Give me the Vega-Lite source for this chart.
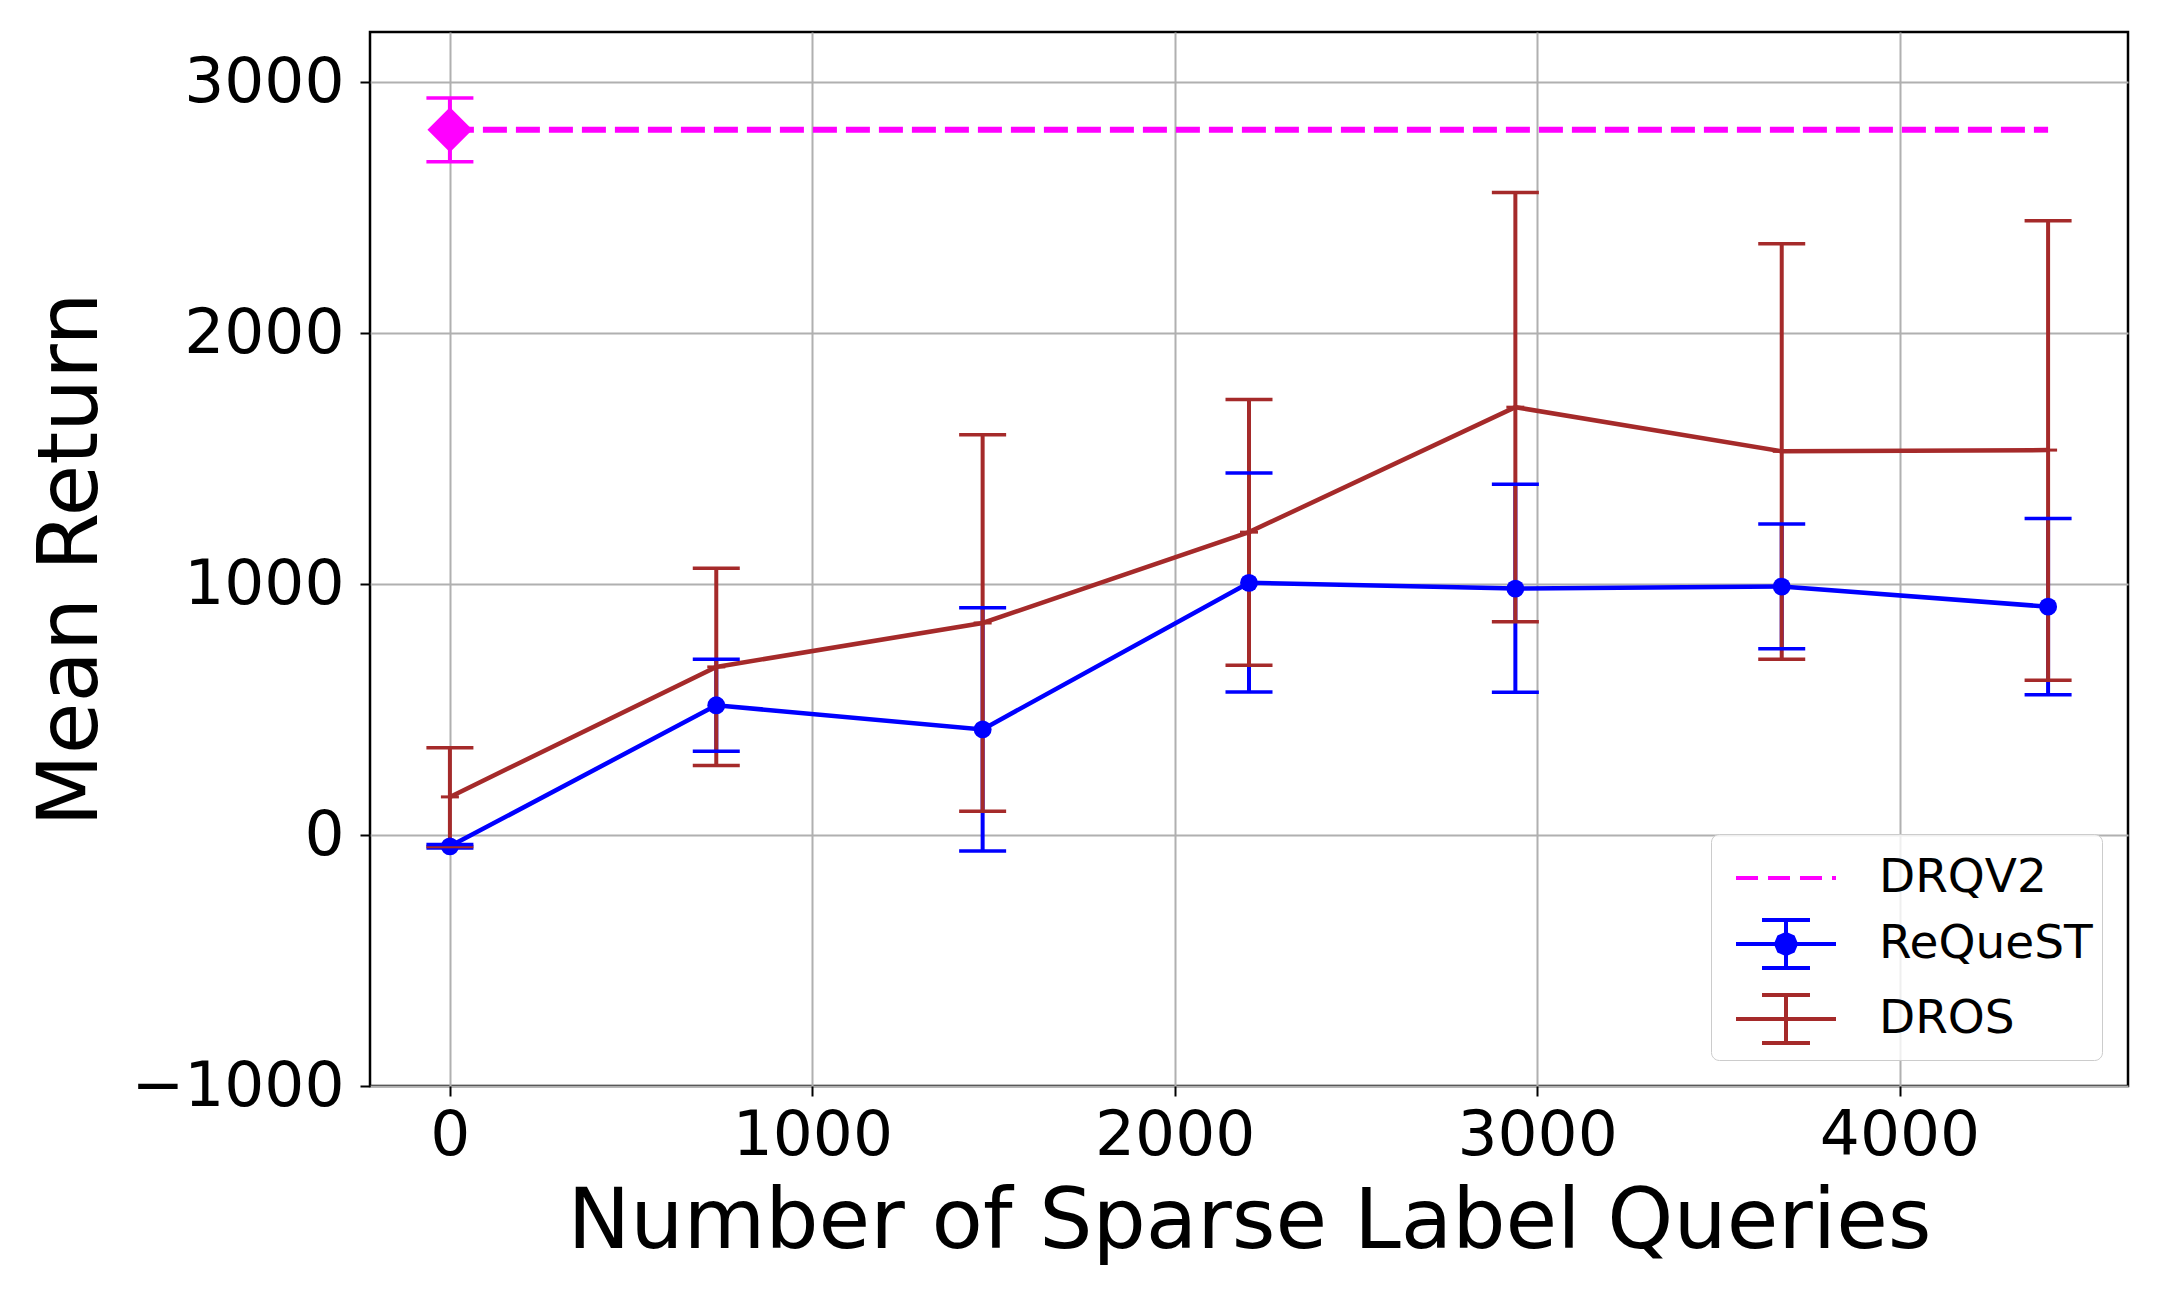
{
  "$schema": "https://vega.github.io/schema/vega-lite/v6.json",
  "autosize": {"type": "none"},
  "padding": {"left": 370, "top": 32, "right": 32, "bottom": 210},
  "width": 1758,
  "height": 1054,
  "background": "white",
  "datasets": {
    "points": [
      {"series": "DRQV2", "x": 0, "mean": 2810, "lo": 2683, "hi": 2937},
      {"series": "ReQueST", "x": 0, "mean": -45, "lo": -52, "hi": -38},
      {"series": "ReQueST", "x": 735, "mean": 517, "lo": 334, "hi": 701},
      {"series": "ReQueST", "x": 1470, "mean": 421, "lo": -64, "hi": 906},
      {"series": "ReQueST", "x": 2205, "mean": 1005, "lo": 570, "hi": 1443},
      {"series": "ReQueST", "x": 2940, "mean": 982, "lo": 569, "hi": 1398},
      {"series": "ReQueST", "x": 3675, "mean": 990, "lo": 742, "hi": 1239},
      {"series": "ReQueST", "x": 4410, "mean": 910, "lo": 559, "hi": 1261},
      {"series": "DROS", "x": 0, "mean": 152, "lo": -46, "hi": 348},
      {"series": "DROS", "x": 735, "mean": 670, "lo": 277, "hi": 1063},
      {"series": "DROS", "x": 1470, "mean": 845, "lo": 95, "hi": 1595},
      {"series": "DROS", "x": 2205, "mean": 1207, "lo": 677, "hi": 1736},
      {"series": "DROS", "x": 2940, "mean": 1705, "lo": 850, "hi": 2560},
      {"series": "DROS", "x": 3675, "mean": 1529, "lo": 701, "hi": 2356},
      {"series": "DROS", "x": 4410, "mean": 1534, "lo": 617, "hi": 2448}
    ],
    "baseline": [
      {"series": "DRQV2", "x": 0, "mean": 2810},
      {"series": "DRQV2", "x": 4410, "mean": 2810}
    ]
  },
  "encoding": {
    "x": {
      "field": "x",
      "type": "quantitative",
      "scale": {"domain": [-220.5, 4630.5], "nice": false, "zero": false},
      "axis": {
        "values": [0, 1000, 2000, 3000, 4000],
        "format": "d",
        "title": "Number of Sparse Label Queries",
        "labelPadding": 8,
        "titlePadding": 14
      }
    }
  },
  "layer": [
    {
      "data": {"name": "baseline"},
      "mark": {"type": "line", "color": "#ff00ff", "strokeWidth": 6, "strokeDash": [24, 9]},
      "encoding": {
        "y": {
          "field": "mean",
          "type": "quantitative",
          "scale": {"domain": [-1000, 3200], "nice": false, "zero": false},
          "title": "Mean Return",
          "axis": {"values": [-1000, 0, 1000, 2000, 3000], "format": "d", "labelPadding": 16, "titlePadding": 56}
        }
      }
    },
    {
      "data": {"name": "points"},
      "mark": {"type": "rule", "strokeWidth": 4, "opacity": 1},
      "encoding": {
        "y": {
          "field": "lo",
          "type": "quantitative",
          "title": "Mean Return",
          "axis": {"values": [-1000, 0, 1000, 2000, 3000], "format": "d", "labelPadding": 16, "titlePadding": 56}
        },
        "y2": {"field": "hi"},
        "color": {
          "field": "series",
          "type": "nominal",
          "scale": {"domain": ["ReQueST", "DROS", "DRQV2"], "range": ["#0000ff", "#a52a2a", "#ff00ff"]},
          "legend": null
        }
      }
    },
    {
      "data": {"name": "points"},
      "transform": [{"filter": "datum.series !== 'DRQV2'"}],
      "mark": {"type": "line", "strokeWidth": 4.5, "opacity": 1},
      "encoding": {
        "y": {
          "field": "mean",
          "type": "quantitative",
          "title": "Mean Return",
          "axis": {"values": [-1000, 0, 1000, 2000, 3000], "format": "d", "labelPadding": 16, "titlePadding": 56}
        },
        "color": {"field": "series", "type": "nominal", "legend": null},
        "detail": {"field": "series"}
      }
    },
    {
      "data": {"name": "points"},
      "transform": [{"filter": "datum.series === 'DROS'"}],
      "mark": {"type": "tick", "orient": "horizontal", "size": 18, "thickness": 3, "opacity": 1},
      "encoding": {
        "y": {
          "field": "mean",
          "type": "quantitative",
          "title": "Mean Return",
          "axis": {"values": [-1000, 0, 1000, 2000, 3000], "format": "d", "labelPadding": 16, "titlePadding": 56}
        },
        "color": {"field": "series", "type": "nominal", "legend": null}
      }
    },
    {
      "data": {"name": "points"},
      "transform": [{"filter": "datum.series === 'ReQueST'"}],
      "mark": {"type": "point", "shape": "circle", "filled": true, "size": 320, "opacity": 1},
      "encoding": {
        "y": {
          "field": "mean",
          "type": "quantitative",
          "title": "Mean Return",
          "axis": {"values": [-1000, 0, 1000, 2000, 3000], "format": "d", "labelPadding": 16, "titlePadding": 56}
        },
        "color": {"field": "series", "type": "nominal", "legend": null}
      }
    },
    {
      "data": {"name": "points"},
      "transform": [{"filter": "datum.series === 'DRQV2'"}],
      "mark": {"type": "point", "shape": "diamond", "filled": true, "size": 2025, "opacity": 1},
      "encoding": {
        "y": {
          "field": "mean",
          "type": "quantitative",
          "title": "Mean Return",
          "axis": {"values": [-1000, 0, 1000, 2000, 3000], "format": "d", "labelPadding": 16, "titlePadding": 56}
        },
        "color": {"field": "series", "type": "nominal", "legend": null}
      }
    },
    {
      "data": {"name": "points"},
      "mark": {"type": "tick", "orient": "horizontal", "size": 47, "thickness": 3.5, "opacity": 1},
      "encoding": {
        "y": {
          "field": "lo",
          "type": "quantitative",
          "title": "Mean Return",
          "axis": {"values": [-1000, 0, 1000, 2000, 3000], "format": "d", "labelPadding": 16, "titlePadding": 56}
        },
        "color": {"field": "series", "type": "nominal", "legend": null}
      }
    },
    {
      "data": {"name": "points"},
      "mark": {"type": "tick", "orient": "horizontal", "size": 47, "thickness": 3.5, "opacity": 1},
      "encoding": {
        "y": {
          "field": "hi",
          "type": "quantitative",
          "title": "Mean Return",
          "axis": {"values": [-1000, 0, 1000, 2000, 3000], "format": "d", "labelPadding": 16, "titlePadding": 56}
        },
        "color": {"field": "series", "type": "nominal", "legend": null}
      }
    },
    {
      "data": {"name": "points"},
      "mark": {"type": "point", "size": 0, "filled": true, "strokeWidth": 4, "opacity": 1},
      "encoding": {
        "y": {
          "field": "mean",
          "type": "quantitative",
          "title": "Mean Return",
          "axis": {"values": [-1000, 0, 1000, 2000, 3000], "format": "d", "labelPadding": 16, "titlePadding": 56}
        },
        "fill": {
          "field": "series",
          "type": "nominal",
          "scale": {"domain": ["DRQV2", "ReQueST", "DROS"], "range": ["#ff00ff", "#0000ff", "#a52a2a"]},
          "legend": {"title": null, "orient": "bottom-right", "offset": 26}
        },
        "stroke": {
          "field": "series",
          "type": "nominal",
          "scale": {"domain": ["DRQV2", "ReQueST", "DROS"], "range": ["#ff00ff", "#0000ff", "#a52a2a"]},
          "legend": {"title": null, "orient": "bottom-right", "offset": 26}
        },
        "shape": {
          "field": "series",
          "type": "nominal",
          "scale": {
            "domain": ["DRQV2", "ReQueST", "DROS"],
            "range": [
              "M-1.515,0L-0.848,0M-0.545,0L0.121,0M0.424,0L1.091,0M1.394,0L1.515,0",
              "M-1.515,0L1.515,0M0,-0.727L0,0.727M-0.727,-0.727L0.727,-0.727M-0.727,0.727L0.727,0.727M0.303,0L0.214,0.214L0,0.303L-0.214,0.214L-0.303,0L-0.214,-0.214L0,-0.303L0.214,-0.214Z",
              "M-1.515,0L1.515,0M0,-0.727L0,0.727M-0.727,-0.727L0.727,-0.727M-0.727,0.727L0.727,0.727"
            ]
          },
          "legend": {"title": null, "orient": "bottom-right", "offset": 26}
        }
      }
    }
  ],
  "config": {
    "font": "DejaVu Sans",
    "view": {"stroke": "black", "strokeWidth": 2.5},
    "axis": {
      "domain": false,
      "grid": true,
      "gridColor": "#b0b0b0",
      "gridWidth": 2,
      "tickColor": "black",
      "tickSize": 10,
      "tickWidth": 2,
      "labelFont": "DejaVu Sans",
      "labelFontSize": 63,
      "labelColor": "black",
      "labelLimit": 500,
      "titleFont": "DejaVu Sans",
      "titleFontSize": 84,
      "titleFontWeight": "normal",
      "titleColor": "black",
      "labelFlush": false,
      "labelOverlap": false
    },
    "legend": {
      "padding": 9,
      "rowPadding": 8,
      "symbolSize": 4356,
      "symbolStrokeWidth": 4,
      "symbolOffset": 31,
      "labelOffset": 58,
      "labelFont": "DejaVu Sans",
      "labelFontSize": 47,
      "labelColor": "black",
      "labelLimit": 500,
      "fillColor": "rgba(255,255,255,0.8)",
      "strokeColor": "#cccccc",
      "cornerRadius": 8
    }
  }
}
